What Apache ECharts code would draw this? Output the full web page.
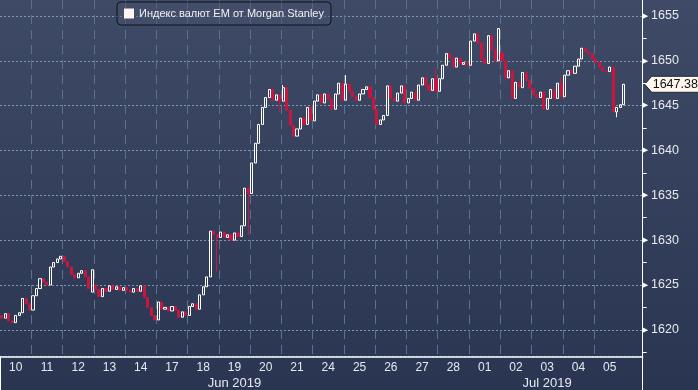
<!DOCTYPE html>
<html><head><meta charset="utf-8">
<script src="https://cdn.jsdelivr.net/npm/echarts@6/dist/echarts.min.js"></script>
<style>html,body{margin:0;padding:0;background:#2c3753;}#c{width:698px;height:390px;}</style>
</head><body><div id="c"></div>
<script>
const seriesName = 'Индекс валют EM от Morgan Stanley';
const dayLabels = ['10','11','12','13','14','17','18','19','20','21','24','25','26','27','28','01','02','03','04','05'];
const monthLabels = ['Jun 2019','Jul 2019'];
const slotsPerDay = 9;
const trailingEmptySlots = 5;

// closes, 9 intraday bars per trading day
const jun10 = [1621.3, 1621.8, 1621.0, 1620.8, 1621.6, 1621.9, 1623.5, 1622.9, 1622.2];
const jun11 = [1623.8, 1624.6, 1625.7, 1625.3, 1625.0, 1627.0, 1627.5, 1627.9, 1628.2];
const jun12 = [1627.6, 1627.0, 1626.2, 1625.8, 1626.3, 1626.6, 1625.9, 1624.6, 1626.7];
const jun13 = [1624.5, 1623.7, 1624.6, 1624.3, 1624.9, 1624.5, 1624.8, 1624.4, 1624.7];
const jun14 = [1624.4, 1624.2, 1624.6, 1624.3, 1624.9, 1623.6, 1622.5, 1621.6, 1621.1];
const jun17 = [1623.1, 1622.3, 1622.5, 1622.1, 1622.6, 1622.2, 1621.4, 1622.0, 1621.6];
const jun18 = [1622.6, 1622.9, 1622.3, 1623.9, 1624.8, 1625.9, 1631.0, 1630.6, 1630.3];
const jun19 = [1630.9, 1630.3, 1630.6, 1630.0, 1630.8, 1630.4, 1631.6, 1635.8, 1635.2];
const jun20 = [1638.6, 1640.8, 1642.9, 1644.8, 1645.9, 1646.8, 1645.6, 1646.2, 1645.5];
const jun21 = [1647.0, 1644.5, 1642.8, 1641.6, 1642.4, 1643.6, 1642.9, 1644.8, 1643.3];
const jun24 = [1645.5, 1646.2, 1645.3, 1646.3, 1645.7, 1644.6, 1646.3, 1647.5, 1645.6];
const jun25 = [1647.4, 1646.6, 1646.0, 1645.6, 1646.3, 1646.8, 1647.1, 1645.9, 1644.6];
const jun26 = [1642.9, 1643.4, 1643.9, 1647.2, 1645.8, 1645.5, 1646.4, 1647.2, 1645.3];
const jun27 = [1645.8, 1646.5, 1645.6, 1647.3, 1648.1, 1647.3, 1646.7, 1648.0, 1646.6];
const jun28 = [1648.0, 1649.5, 1650.8, 1650.3, 1649.3, 1650.3, 1649.6, 1649.8, 1649.5];
const jul01 = [1652.2, 1653.0, 1652.0, 1650.2, 1649.7, 1652.8, 1651.2, 1650.0, 1653.6];
const jul02 = [1650.0, 1648.1, 1648.9, 1645.8, 1647.6, 1647.0, 1648.7, 1647.8, 1646.9];
const jul03 = [1646.2, 1645.9, 1646.5, 1644.6, 1645.8, 1646.8, 1645.8, 1647.5, 1646.0];
const jul04 = [1648.4, 1648.9, 1648.6, 1649.4, 1650.2, 1651.4, 1651.0, 1650.8, 1650.2];
const jul05 = [1649.8, 1649.3, 1648.9, 1648.8, 1649.3, 1644.3, 1644.8, 1645.1, 1647.38];

const firstOpen = 1621.6;
// [bar index, value]
const openOverrides = [[26, 1624.2], [27, 1625.0], [144, 1650.9]];
const highOverrides = [[81, 1647.3], [99, 1648.4], [125, 1649.2], [161, 1648.1]];
const lowOverrides  = [[62, 1626.5], [71, 1630.6], [80, 1644.2], [177, 1643.7]];
const lastPrice = 1647.38;
const yMin = 1617, yMax = 1656.78;
const majorValues = [1620, 1625, 1630, 1635, 1640, 1645, 1650, 1655];
const minorTickValues = [1617.5, 1622.5, 1627.5, 1632.5, 1637.5, 1642.5, 1647.5, 1652.5];

const closes = [].concat(jun10, jun11, jun12, jun13, jun14, jun17, jun18, jun19, jun20, jun21,
  jun24, jun25, jun26, jun27, jun28, jul01, jul02, jul03, jul04, jul05);
const oMap = new Map(openOverrides), hMap = new Map(highOverrides), lMap = new Map(lowOverrides);
const candles = [];
let prev = firstOpen;
closes.forEach((c, i) => {
  const o = oMap.has(i) ? oMap.get(i) : prev;
  let h = Math.max(o, c), l = Math.min(o, c);
  if (hMap.has(i)) h = Math.max(h, hMap.get(i));
  if (lMap.has(i)) l = Math.min(l, lMap.get(i));
  candles.push([o, c, l, h]);
  prev = c;
});
const nDataSlots = dayLabels.length * slotsPerDay;
const totalSlots = nDataSlots + trailingEmptySlots;
const cats = [];
for (let i = 0; i < totalSlots; i++) cats.push('b' + i);
const julStart = dayLabels.indexOf('01') * slotsPerDay;
const junMid = Math.floor(julStart / 2);
const julMid = Math.floor((julStart + nDataSlots) / 2);

const FONT = 'Liberation Sans';
const labelColor = '#e6e9ef';
const gridRight = 55.3;

const chart = echarts.init(document.getElementById('c'));
chart.setOption({
  animation: false,
  backgroundColor: new echarts.graphic.LinearGradient(0, 0, 0, 1, [
    {offset: 0, color: '#3f4b66'}, {offset: 1, color: '#2a3551'}]),
  textStyle: {fontFamily: FONT},
  grid: {left: -4.8, right: gridRight, top: 0, bottom: 33.3},
  legend: {
    left: 117, top: 2, padding: [6, 7], itemWidth: 10, itemHeight: 10,
    backgroundColor: 'rgba(70,83,110,0.45)', borderColor: '#0d121c', borderWidth: 1, borderRadius: 4,
    textStyle: {color: '#f0f0f0', fontSize: 11, fontFamily: FONT},
    data: [{name: seriesName, icon: 'rect', itemStyle: {color: '#fff4f0', borderWidth: 0}}]
  },
  xAxis: [{
    type: 'category', data: cats, boundaryGap: true,
    axisLine: {lineStyle: {color: '#ffffff', width: 1.5}},
    axisTick: {show: false},
    axisLabel: {
      interval: (i) => i % slotsPerDay === 4 && i < nDataSlots,
      formatter: (v, i) => dayLabels[Math.floor(i / slotsPerDay)],
      color: labelColor, fontSize: 12, margin: 5, fontFamily: FONT
    },
    splitLine: {show: true, interval: (i) => i % slotsPerDay === 0 && i > 0 && i < nDataSlots,
      lineStyle: {color: '#587291', type: [9, 6], width: 1}}
  }, {
    type: 'category', data: cats, boundaryGap: true, position: 'bottom',
    axisLine: {show: false},
    axisTick: {show: true, interval: (i) => i === julStart, length: 34, lineStyle: {color: '#ffffff', width: 1}},
    axisLabel: {
      interval: (i) => i === junMid || i === julMid,
      formatter: (v, i) => (i < julStart ? monthLabels[0] : monthLabels[1]),
      color: labelColor, fontSize: 13, margin: 20, fontFamily: FONT
    },
    splitLine: {show: false}
  }],
  yAxis: [{
    type: 'value', position: 'right', min: yMin, max: yMax, splitNumber: 8,
    axisLine: {show: true, lineStyle: {color: '#ffffff', width: 1}},
    axisTick: {show: false},
    axisLabel: {
      margin: 0,
      formatter: (v) => (majorValues.indexOf(Math.round(v * 100) / 100) >= 0 ? '{t|\u25B6}{v|' + v + '}' : ''),
      rich: {
        t: {fontSize: 7, color: '#ffffff', fontFamily: 'DejaVu Sans', padding: [0, 3, 0, 0]},
        v: {fontSize: 12.5, color: labelColor, fontFamily: FONT}
      }
    },
    splitLine: {show: true, showMaxLine: false, lineStyle: {color: '#7f96b6', type: [2, 2], width: 1}}
  }, {
    type: 'value', position: 'right', min: yMin, max: yMax,
    axisLine: {show: false}, axisLabel: {show: false}, splitLine: {show: false},
    axisTick: {show: true, customValues: minorTickValues, length: 4, lineStyle: {color: '#ffffff'}}
  }],
  series: [{
    type: 'candlestick', name: seriesName, data: candles, barWidth: 2.6,
    itemStyle: {color: 'rgba(0,0,0,0)', color0: '#c8163f', borderColor: '#ffffff', borderColor0: '#c8163f', borderWidth: 1}
  }]
});

const yPix = chart.convertToPixel({yAxisIndex: 0}, lastPrice);
const axisX = chart.getWidth() - gridRight;
chart.setOption({
  graphic: [{
    type: 'group', x: axisX + 2, y: yPix, children: [
      {type: 'polygon', shape: {points: [[0, 0], [7, -8], [60, -8], [60, 8], [7, 8]]},
        style: {fill: '#fdf7ee', stroke: '#1e2535', lineWidth: 1}},
      {type: 'text', x: 8, y: 0.5, style: {text: lastPrice.toFixed(2), fill: '#111111',
        font: '12.5px "Liberation Sans"', verticalAlign: 'middle'}}
    ]
  }]
});
</script></body></html>
